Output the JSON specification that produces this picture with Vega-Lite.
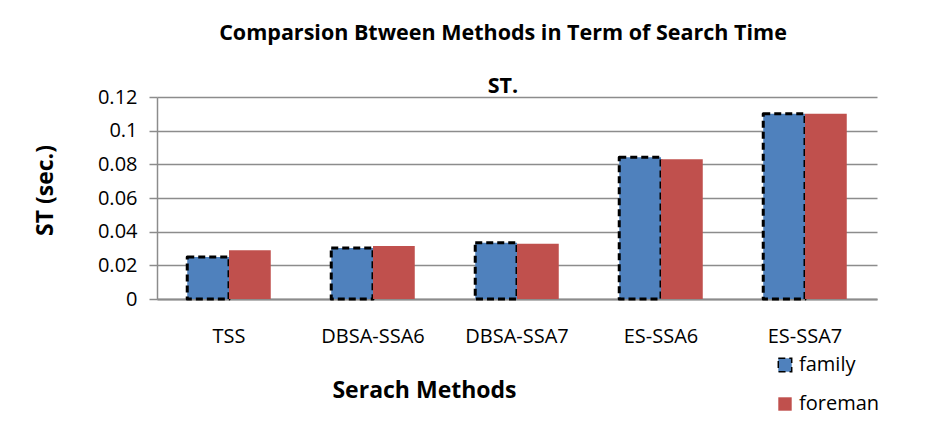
{
  "$schema": "https://vega.github.io/schema/vega-lite/v6.json",
  "autosize": {"type": "none"},
  "padding": {"left": 157, "top": 97, "right": 73, "bottom": 126},
  "width": 720,
  "height": 202,
  "background": "white",
  "title": {
    "text": ["Comparsion Btween Methods in Term of Search Time", "ST."],
    "font": "Open Sans",
    "fontSize": 21.5,
    "fontWeight": "bold",
    "color": "black",
    "anchor": "middle",
    "frame": "group",
    "dx": -14,
    "offset": -10,
    "lineHeight": 53
  },
  "data": {
    "values": [
      {"method": "TSS", "series": "family", "st": 0.025},
      {"method": "TSS", "series": "foreman", "st": 0.029},
      {"method": "DBSA-SSA6", "series": "family", "st": 0.0303},
      {"method": "DBSA-SSA6", "series": "foreman", "st": 0.0315},
      {"method": "DBSA-SSA7", "series": "family", "st": 0.0334},
      {"method": "DBSA-SSA7", "series": "foreman", "st": 0.0328},
      {"method": "ES-SSA6", "series": "family", "st": 0.0842},
      {"method": "ES-SSA6", "series": "foreman", "st": 0.083},
      {"method": "ES-SSA7", "series": "family", "st": 0.11},
      {"method": "ES-SSA7", "series": "foreman", "st": 0.11}
    ]
  },
  "mark": {"type": "bar", "strokeWidth": 3, "strokeJoin": "round"},
  "encoding": {
    "x": {
      "field": "method",
      "type": "nominal",
      "sort": null,
      "scale": {"paddingInner": 0.42, "paddingOuter": 0.21},
      "axis": {
        "title": "Serach Methods",
        "labelAngle": 0,
        "labelFont": "Open Sans",
        "labelFontSize": 20,
        "labelColor": "black",
        "labelPadding": 27,
        "ticks": false,
        "domainColor": "#8c8c8c",
        "domainWidth": 2,
        "titleFont": "Open Sans",
        "titleFontSize": 23,
        "titleFontWeight": "bold",
        "titleColor": "black",
        "titleX": 267,
        "titleY": 91,
        "titleBaseline": "middle",
        "titleAnchor": "middle"
      }
    },
    "xOffset": {"field": "series", "type": "nominal", "scale": {"paddingInner": 0}},
    "y": {
      "field": "st",
      "type": "quantitative",
      "scale": {"domain": [0, 0.12], "nice": false},
      "axis": {
        "title": "ST (sec.)",
        "values": [0, 0.02, 0.04, 0.06, 0.08, 0.1, 0.12],
        "format": ".2~f",
        "labelFont": "Open Sans",
        "labelFontSize": 20,
        "labelColor": "black",
        "labelPadding": 12,
        "tickSize": 8,
        "tickColor": "#8c8c8c",
        "tickWidth": 1.5,
        "domainColor": "#8c8c8c",
        "domainWidth": 1.5,
        "gridColor": "#8c8c8c",
        "gridWidth": 1.5,
        "titleFont": "Open Sans",
        "titleFontSize": 23,
        "titleFontWeight": "bold",
        "titleColor": "black",
        "titleX": -112,
        "titleY": 93,
        "titleAngle": -90,
        "titleBaseline": "middle",
        "titleAnchor": "middle"
      }
    },
    "fill": {
      "field": "series",
      "type": "nominal",
      "scale": {"domain": ["family", "foreman"], "range": ["#4F81BD", "#C0504D"]},
      "legend": {
        "title": null,
        "orient": "none",
        "legendX": 618,
        "legendY": 258,
        "symbolType": "square",
        "symbolSize": 180,
        "labelFont": "Open Sans",
        "labelFontSize": 20,
        "labelColor": "black",
        "rowPadding": 19,
        "labelOffset": 4
      }
    },
    "stroke": {
      "field": "series",
      "type": "nominal",
      "scale": {"domain": ["family", "foreman"], "range": ["black", "transparent"]},
      "legend": null
    },
    "strokeDash": {
      "field": "series",
      "type": "nominal",
      "scale": {"domain": ["family", "foreman"], "range": [[7, 4], [1, 0]]},
      "legend": null
    }
  },
  "config": {"view": {"stroke": null}}
}
